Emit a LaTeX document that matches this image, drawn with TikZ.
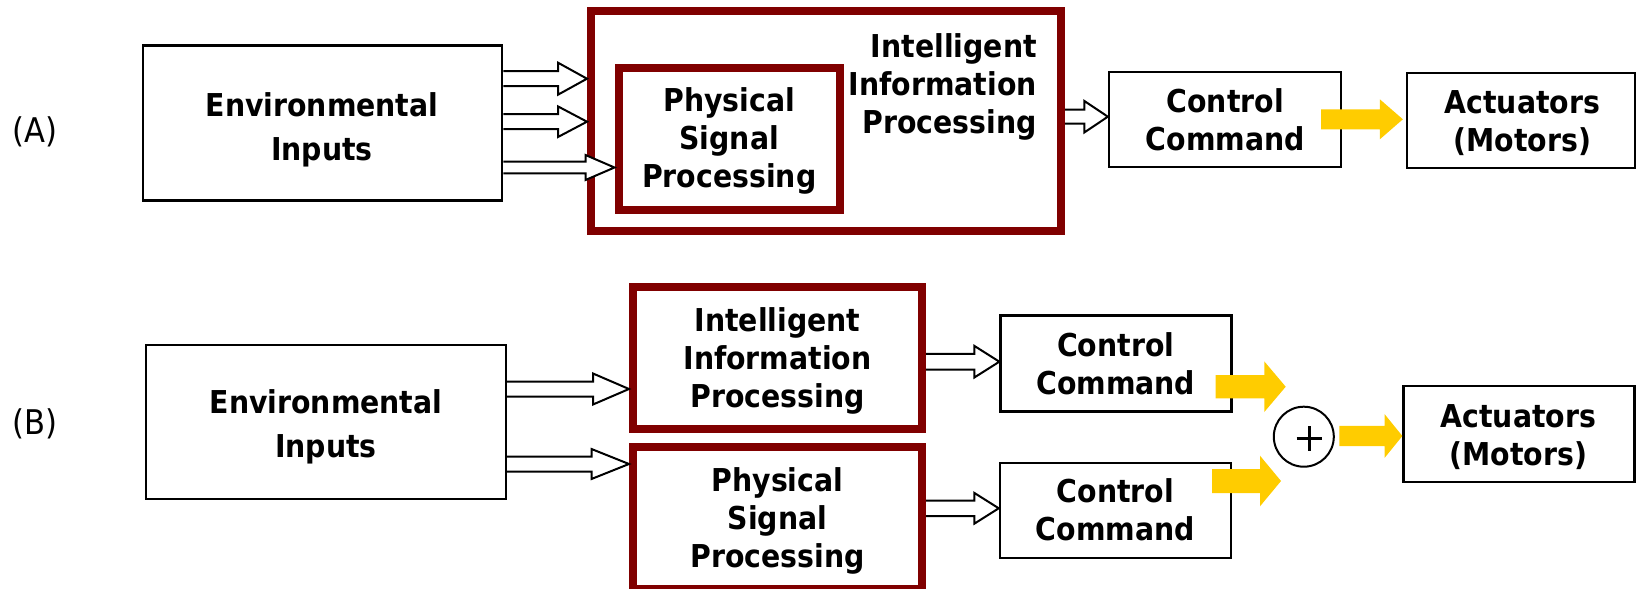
\documentclass[tikz,border=0pt]{standalone}
\usepackage{fontspec}
\newfontfamily\diafont{DejaVu Sans Condensed}
\usetikzlibrary{calc}
\definecolor{boxred}{HTML}{800000}
\definecolor{flow}{HTML}{FFCC00}

% open-tailed outline arrow: tail point, tip point, half shaft, half head, head length
\newcommand\hollowarrow[5]{%
  \filldraw[hollow] let \p1=#1, \p2=#2 in
    (\x1,{\y1+#3pt}) -- ({\x2-#5pt},{\y1+#3pt}) -- ({\x2-#5pt},{\y1+#4pt})
    -- (\x2,\y1) -- ({\x2-#5pt},{\y1-#4pt}) -- ({\x2-#5pt},{\y1-#3pt}) -- (\x1,{\y1-#3pt});}
% solid block arrow for the actuation flow
\newcommand\flowarrow[5]{%
  \fill[flow] let \p1=#1, \p2=#2 in
    (\x1,{\y1+#3pt}) -- ({\x2-#5pt},{\y1+#3pt}) -- ({\x2-#5pt},{\y1+#4pt})
    -- (\x2,\y1) -- ({\x2-#5pt},{\y1-#4pt}) -- ({\x2-#5pt},{\y1-#3pt}) -- (\x1,{\y1-#3pt}) -- cycle;}

\begin{document}
\begin{tikzpicture}[x=1pt,y=-1pt,
  plainbox/.style={draw=black, line width=2.3pt, inner sep=0pt, fill=white},
  redbox/.style={draw=boxred, line width=8pt, inner sep=0pt},
  txt/.style={font=\diafont\bfseries\fontsize{31.5}{38}\selectfont, align=center, inner sep=0pt},
  envtxt/.style={font=\diafont\bfseries\fontsize{31.5}{44}\selectfont, align=center, inner sep=0pt},
  tag/.style={font=\diafont\fontsize{34}{40}\selectfont, inner sep=0pt},
  hollow/.style={draw=black, fill=white, line width=2pt, line join=miter}]
\useasboundingbox (0,0) rectangle (1639,589);

% ---------- (A) ----------
\node[tag] (tagA) at (35,132) {(A)};
\node[plainbox, minimum width=359.4pt, minimum height=155.2pt] (envA) at (322.5,123) {};
\node[envtxt] (envAtxt) at (322,129.8) {Environmental\\Inputs};
\node[redbox, minimum width=470pt, minimum height=220pt] (outerA) at (826,121) {};
\node[redbox, minimum width=221.5pt, minimum height=142.5pt] (innerA) at (729.25,138.75) {};
\node[txt, align=right, anchor=north east] (intAtxt) at (1037,33.1) {Intelligent\\Information\\Processing};
\node[txt] (physAtxt) at (729.25,141.4) {Physical\\Signal\\Processing};
\node[plainbox, minimum width=232pt, minimum height=95.4pt] (ctrlA) at (1225,119.5) {};
\node[txt] (ctrlAtxt) at (1225.3,119.9) {Control\\Command};
\node[plainbox, minimum width=228pt, minimum height=95pt] (actA) at (1521,120.5) {};
\node[txt] (actAtxt) at (1522.4,123.5) {Actuators\\(Motors)};

\hollowarrow{(envA.east |- 0,78.7)}{(outerA.west)}{7.5}{16}{29}
\hollowarrow{(envA.east |- 0,121.7)}{(outerA.west)}{7.5}{15.3}{29}
\hollowarrow{(envA.east |- 0,167.5)}{(innerA.west)}{5.8}{12.5}{29}
\hollowarrow{(outerA.east |- 0,116.7)}{(ctrlA.west)}{7}{15.8}{23.6}
\flowarrow{($(ctrlA.east |- 0,119.3)+(-21,0)$)}{($(actA.west)+(-3,0)$)}{10}{20}{23}

% ---------- (B) ----------
\node[tag] (tagB) at (35,424) {(B)};
\node[plainbox, minimum width=360pt, minimum height=154pt] (envB) at (326,422) {};
\node[envtxt] (envBtxt) at (326,426.9) {Environmental\\Inputs};
\node[redbox, minimum width=289pt, minimum height=142pt] (intB) at (777.5,358) {};
\node[txt] (intBtxt) at (777.5,361.4) {Intelligent\\Information\\Processing};
\node[redbox, minimum width=289pt, minimum height=142pt] (physB) at (777.5,518) {};
\node[txt] (physBtxt) at (777.5,521.4) {Physical\\Signal\\Processing};
\node[plainbox, minimum width=231pt, minimum height=96pt] (ctlB1) at (1116,363.5) {};
\node[txt] (ctlB1txt) at (1115.7,363.7) {Control\\Command};
\node[plainbox, minimum width=231pt, minimum height=95.4pt] (ctlB2) at (1115.4,510.5) {};
\node[txt] (ctlB2txt) at (1115.4,510.2) {Control\\Command};
\node[plainbox, circle, line width=2pt, minimum size=60pt] (sum) at (1303.8,436.7) {};
\node[plainbox, minimum width=231pt, minimum height=96pt] (actB) at (1519,434.2) {};
\node[txt] (actBtxt) at (1518.3,437) {Actuators\\(Motors)};

% summing junction sign
\draw[line width=2.7pt] ($(sum.center)+(-7.1,1.8)$) -- ($(sum.center)+(17.9,1.8)$);
\draw[line width=2.7pt] ($(sum.center)+(5.4,-10.7)$) -- ($(sum.center)+(5.4,14.3)$);

\coordinate (j1) at (1285.7,386);
\coordinate (j2) at (1281,481);

\hollowarrow{(envB.east |- 0,389)}{(intB.west)}{7.5}{15.5}{36}
\hollowarrow{(envB.east |- 0,464)}{(physB.west)}{7.5}{15}{37.5}
\hollowarrow{(intB.east |- 0,361.7)}{(ctlB1.west)}{7.8}{15.8}{25}
\hollowarrow{(physB.east |- 0,508.3)}{(ctlB2.west)}{7.7}{15.3}{24.3}
\flowarrow{($(ctlB1.east |- 0,386.7)+(-17,0)$)}{(j1)}{11.7}{25.3}{21.4}
\flowarrow{($(ctlB2.east |- 0,481)+(-20,0)$)}{(j2)}{12}{25.3}{21}
\flowarrow{($(sum.east |- 0,436)+(4.5,0)$)}{(actB.west)}{10.2}{21.8}{17.7}
\end{tikzpicture}
\end{document}
